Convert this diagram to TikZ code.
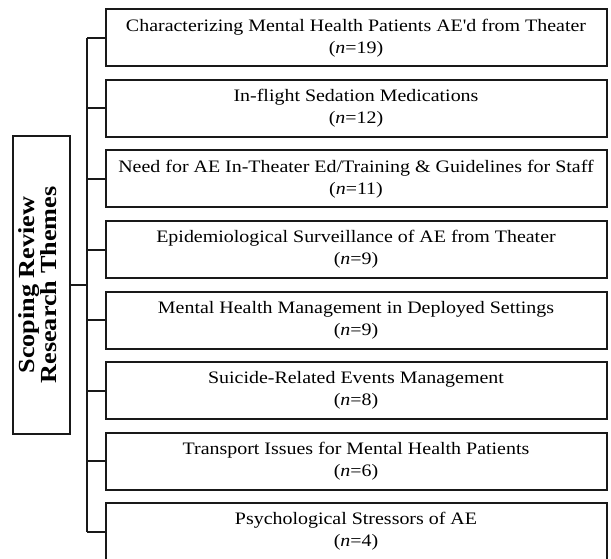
\documentclass[tikz,border=0pt]{standalone}
\usepackage{fontspec}
\setmainfont{Liberation Serif}[FakeStretch=1.14, Ligatures=TeXOff]
\usepackage{graphicx}
\begin{document}
\begin{tikzpicture}[x=1pt,y=-1pt,
  rule/.style={line width=2pt, draw=black!90},
  theme/.style={rule, anchor=north west, minimum width=501pt, minimum height=57pt,
    inner sep=0pt, align=center, font=\fontsize{17.5}{22}\selectfont},
  rootbox/.style={rule, anchor=north west, minimum width=57pt, minimum height=298pt,
    inner sep=0pt, font=\bfseries\fontsize{23}{23}\selectfont}]
\useasboundingbox (0,0) rectangle (611,559);
% research themes, one box per theme
\node[theme] (b1) at (104.5,8.5)   {Characterizing Mental Health Patients AE'd from Theater\\(\textit{n}=19)};
\node[theme] (b2) at (104.5,79)    {In-flight Sedation Medications\\(\textit{n}=12)};
\node[theme] (b3) at (104.5,149.5) {Need for AE In-Theater Ed/Training \& Guidelines for Staff\\(\textit{n}=11)};
\node[theme] (b4) at (104.5,220)   {Epidemiological Surveillance of AE from Theater\\(\textit{n}=9)};
\node[theme] (b5) at (104.5,290.5) {Mental Health Management in Deployed Settings\\(\textit{n}=9)};
\node[theme] (b6) at (104.5,361)   {Suicide-Related Events Management\\(\textit{n}=8)};
\node[theme] (b7) at (104.5,431.5) {Transport Issues for Mental Health Patients\\(\textit{n}=6)};
\node[theme] (b8) at (104.5,502)   {Psychological Stressors of AE\\(\textit{n}=4)};
% root label
\node[rootbox] (root) at (11.5,135) {\rotatebox{90}{\begin{tabular}{@{}c@{}}Scoping Review\\[-1pt]Research Themes\end{tabular}}};
% tree connectors
\coordinate (tk) at (87,0);
\draw[rule] (b1.west -| tk) -- (b8.west -| tk);
\foreach \i in {1,...,8} \draw[rule] (b\i.west) -- (b\i.west -| tk);
\draw[rule] (root.east) -- (root.east -| tk);
\end{tikzpicture}
\end{document}
